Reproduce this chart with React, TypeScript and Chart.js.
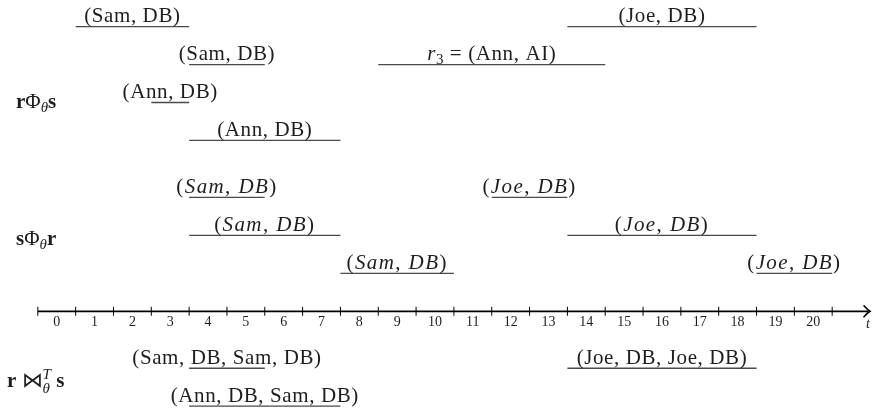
import React, { useEffect, useRef } from "react";
import { Chart, registerables } from "chart.js";

Chart.register(...registerables);

// ---- time axis ----
const timeBoundaries = [0, 1, 2, 3, 4, 5, 6, 7, 8, 9, 10, 11, 12, 13, 14, 15, 16, 17, 18, 19, 20, 21];
const timeTickLabels = ["0", "1", "2", "3", "4", "5", "6", "7", "8", "9", "10", "11", "12", "13", "14", "15", "16", "17", "18", "19", "20"];
const axisStart = 0;
const axisEnd = 22;
const axisName = "t";

// ---- r Φθ s ----
const rsLabels = ["(Sam, DB)", "(Joe, DB)", "(Sam, DB)", "r3 = (Ann, AI)", "(Ann, DB)", "(Ann, DB)"];
const rsStart = [1, 14, 4, 9, 3, 4];
const rsEnd = [4, 19, 6, 15, 4, 8];
const rsLane = [7.5, 7.5, 6.5, 6.5, 5.5, 4.5];

// ---- s Φθ r ----
const srLabels = ["(Sam, DB)", "(Joe, DB)", "(Sam, DB)", "(Joe, DB)", "(Sam, DB)", "(Joe, DB)"];
const srStart = [4, 12, 4, 14, 8, 19];
const srEnd = [6, 14, 8, 19, 11, 21];
const srLane = [3, 3, 2, 2, 1, 1];

// ---- r ⋈θT s ----
const joinLabels = ["(Sam, DB, Sam, DB)", "(Joe, DB, Joe, DB)", "(Ann, DB, Sam, DB)"];
const joinStart = [4, 14, 4];
const joinEnd = [6, 19, 8];
const joinLane = [-1.5, -1.5, -2.5];

// ---- row captions ----
const rowCaptions = ["rΦθs", "sΦθr", "r⋈θTs"];
const rowCaptionLanes = [5.35, 1.75, -2];

const FAM = '"Liberation Serif", "DejaVu Serif", serif';
const TEXT = "#1e1e1e";

type Run = { text: string; font: string; dy?: number; keep?: boolean };

function drawRuns(ctx: CanvasRenderingContext2D, runs: Run[], x0: number, base: number, center: boolean) {
  const widths = runs.map((r) => {
    ctx.font = r.font;
    return ctx.measureText(r.text).width;
  });
  let total = 0;
  runs.forEach((r, i) => {
    if (!r.keep) total += widths[i];
  });
  let x = center ? x0 - total / 2 : x0;
  runs.forEach((r, i) => {
    ctx.font = r.font;
    ctx.fillText(r.text, x, base + (r.dy || 0));
    if (!r.keep) x += widths[i];
  });
}

function labelRuns(label: string, italic: boolean): Run[] {
  const up = `21px ${FAM}`;
  const it = `italic 21px ${FAM}`;
  const m = label.match(/^([a-z])(\d)(.*)$/);
  if (m) {
    return [
      { text: m[1], font: it },
      { text: m[2], font: `15px ${FAM}`, dy: 4 },
      { text: m[3], font: up },
    ];
  }
  if (!italic) return [{ text: label, font: up }];
  return label
    .split(/([A-Za-z]+)/)
    .filter((s) => s.length > 0)
    .map((s) => ({ text: s, font: /^[A-Za-z]+$/.test(s) ? it : up }));
}

function captionRuns(caption: string): Run[] {
  const bold = `bold 21px ${FAM}`;
  const up = `21px ${FAM}`;
  const sub = `italic 15px ${FAM}`;
  if (caption.includes("⋈")) {
    return [
      { text: caption[0], font: bold },
      { text: " ", font: up },
      { text: "⋈", font: up },
      { text: "θ", font: sub, dy: 6, keep: true },
      { text: "T", font: sub, dy: -8 },
      { text: " ", font: up },
      { text: caption[caption.length - 1], font: bold },
    ];
  }
  return [
    { text: caption[0], font: bold },
    { text: "Φ", font: up },
    { text: "θ", font: sub, dy: 4 },
    { text: caption[caption.length - 1], font: bold },
  ];
}

export default function App() {
  const ref = useRef<HTMLCanvasElement>(null);

  useEffect(() => {
    const canvas = ref.current!;
    const groups = [
      { labels: rsLabels, start: rsStart, end: rsEnd, lane: rsLane, italic: false },
      { labels: srLabels, start: srStart, end: srEnd, lane: srLane, italic: true },
      { labels: joinLabels, start: joinStart, end: joinEnd, lane: joinLane, italic: false },
    ];

    const datasets: any[] = [];
    groups.forEach((g) =>
      g.labels.forEach((_, i) =>
        datasets.push({
          data: [
            { x: g.start[i], y: g.lane[i] },
            { x: g.end[i], y: g.lane[i] },
          ],
          borderColor: "#4a4a4a",
          borderWidth: 1.3,
          pointRadius: 0,
          fill: false,
          tension: 0,
        })
      )
    );
    // time axis line
    datasets.push({
      data: [
        { x: axisStart, y: 0 },
        { x: axisEnd - 0.05, y: 0 },
      ],
      borderColor: "#000",
      borderWidth: 1.8,
      pointRadius: 0,
      fill: false,
    });
    // tick marks
    datasets.push({
      data: timeBoundaries.map((b) => ({ x: b, y: 0 })),
      showLine: false,
      pointStyle: "line",
      rotation: 90,
      pointRadius: 4.5,
      pointBorderWidth: 1,
      pointBorderColor: "#000",
      borderColor: "#000",
    });

    const textPlugin = {
      id: "texts",
      afterDatasetsDraw(chart: any) {
        const ctx: CanvasRenderingContext2D = chart.ctx;
        const xs = chart.scales.x;
        const ys = chart.scales.y;
        ctx.save();
        ctx.fillStyle = TEXT;
        ctx.textBaseline = "alphabetic";
        ctx.textAlign = "left";

        // interval labels
        groups.forEach((g) =>
          g.labels.forEach((lab, i) => {
            (ctx as any).letterSpacing = g.italic ? "1.4px" : "0.6px";
            const cx = xs.getPixelForValue((g.start[i] + g.end[i]) / 2);
            const base = ys.getPixelForValue(g.lane[i]) - 4.5;
            drawRuns(ctx, labelRuns(lab, g.italic), cx, base, true);
          })
        );
        (ctx as any).letterSpacing = "0px";

        // row captions
        rowCaptions.forEach((c, i) => {
          const base = ys.getPixelForValue(rowCaptionLanes[i]);
          drawRuns(ctx, captionRuns(c), c.includes("⋈") ? 7 : 16, base, false);
        });

        // tick labels
        const y0 = ys.getPixelForValue(0);
        timeTickLabels.forEach((t, i) => {
          const cx = xs.getPixelForValue(timeBoundaries[i] + 0.5);
          drawRuns(ctx, [{ text: t, font: `14px ${FAM}` }], cx, y0 + 14.5, true);
        });
        // axis name
        drawRuns(ctx, [{ text: axisName, font: `italic 14px ${FAM}` }], xs.getPixelForValue(axisEnd) - 2, y0 + 16.5, true);

        // arrow head
        const tip = xs.getPixelForValue(axisEnd);
        ctx.strokeStyle = "#000";
        ctx.lineWidth = 1.6;
        ctx.lineCap = "round";
        ctx.beginPath();
        ctx.moveTo(tip - 6, y0 - 5.5);
        ctx.quadraticCurveTo(tip - 2.5, y0 - 1.5, tip, y0);
        ctx.quadraticCurveTo(tip - 2.5, y0 + 1.5, tip - 6, y0 + 5.5);
        ctx.stroke();
        ctx.restore();
      },
    };

    const chart = new Chart(canvas, {
      type: "line",
      data: { datasets },
      options: {
        responsive: false,
        devicePixelRatio: 1,
        animation: false,
        parsing: false,
        layout: { padding: { left: 0, right: 2, top: 0, bottom: 0 }, autoPadding: false },
        plugins: { legend: { display: false }, tooltip: { enabled: false } },
        scales: {
          x: { type: "linear", min: -1, max: 22, display: false },
          y: { type: "linear", min: -2.6, max: 8.2, display: false },
        },
        elements: { line: { borderCapStyle: "butt" } },
      },
      plugins: [textPlugin],
    } as any);

    return () => chart.destroy();
  }, []);

  return (
    <div style={{ position: "fixed", left: 0, top: 0, width: 872, height: 410, background: "#fff" }}>
      <canvas ref={ref} width={872} height={410} style={{ display: "block" }} />
    </div>
  );
}
